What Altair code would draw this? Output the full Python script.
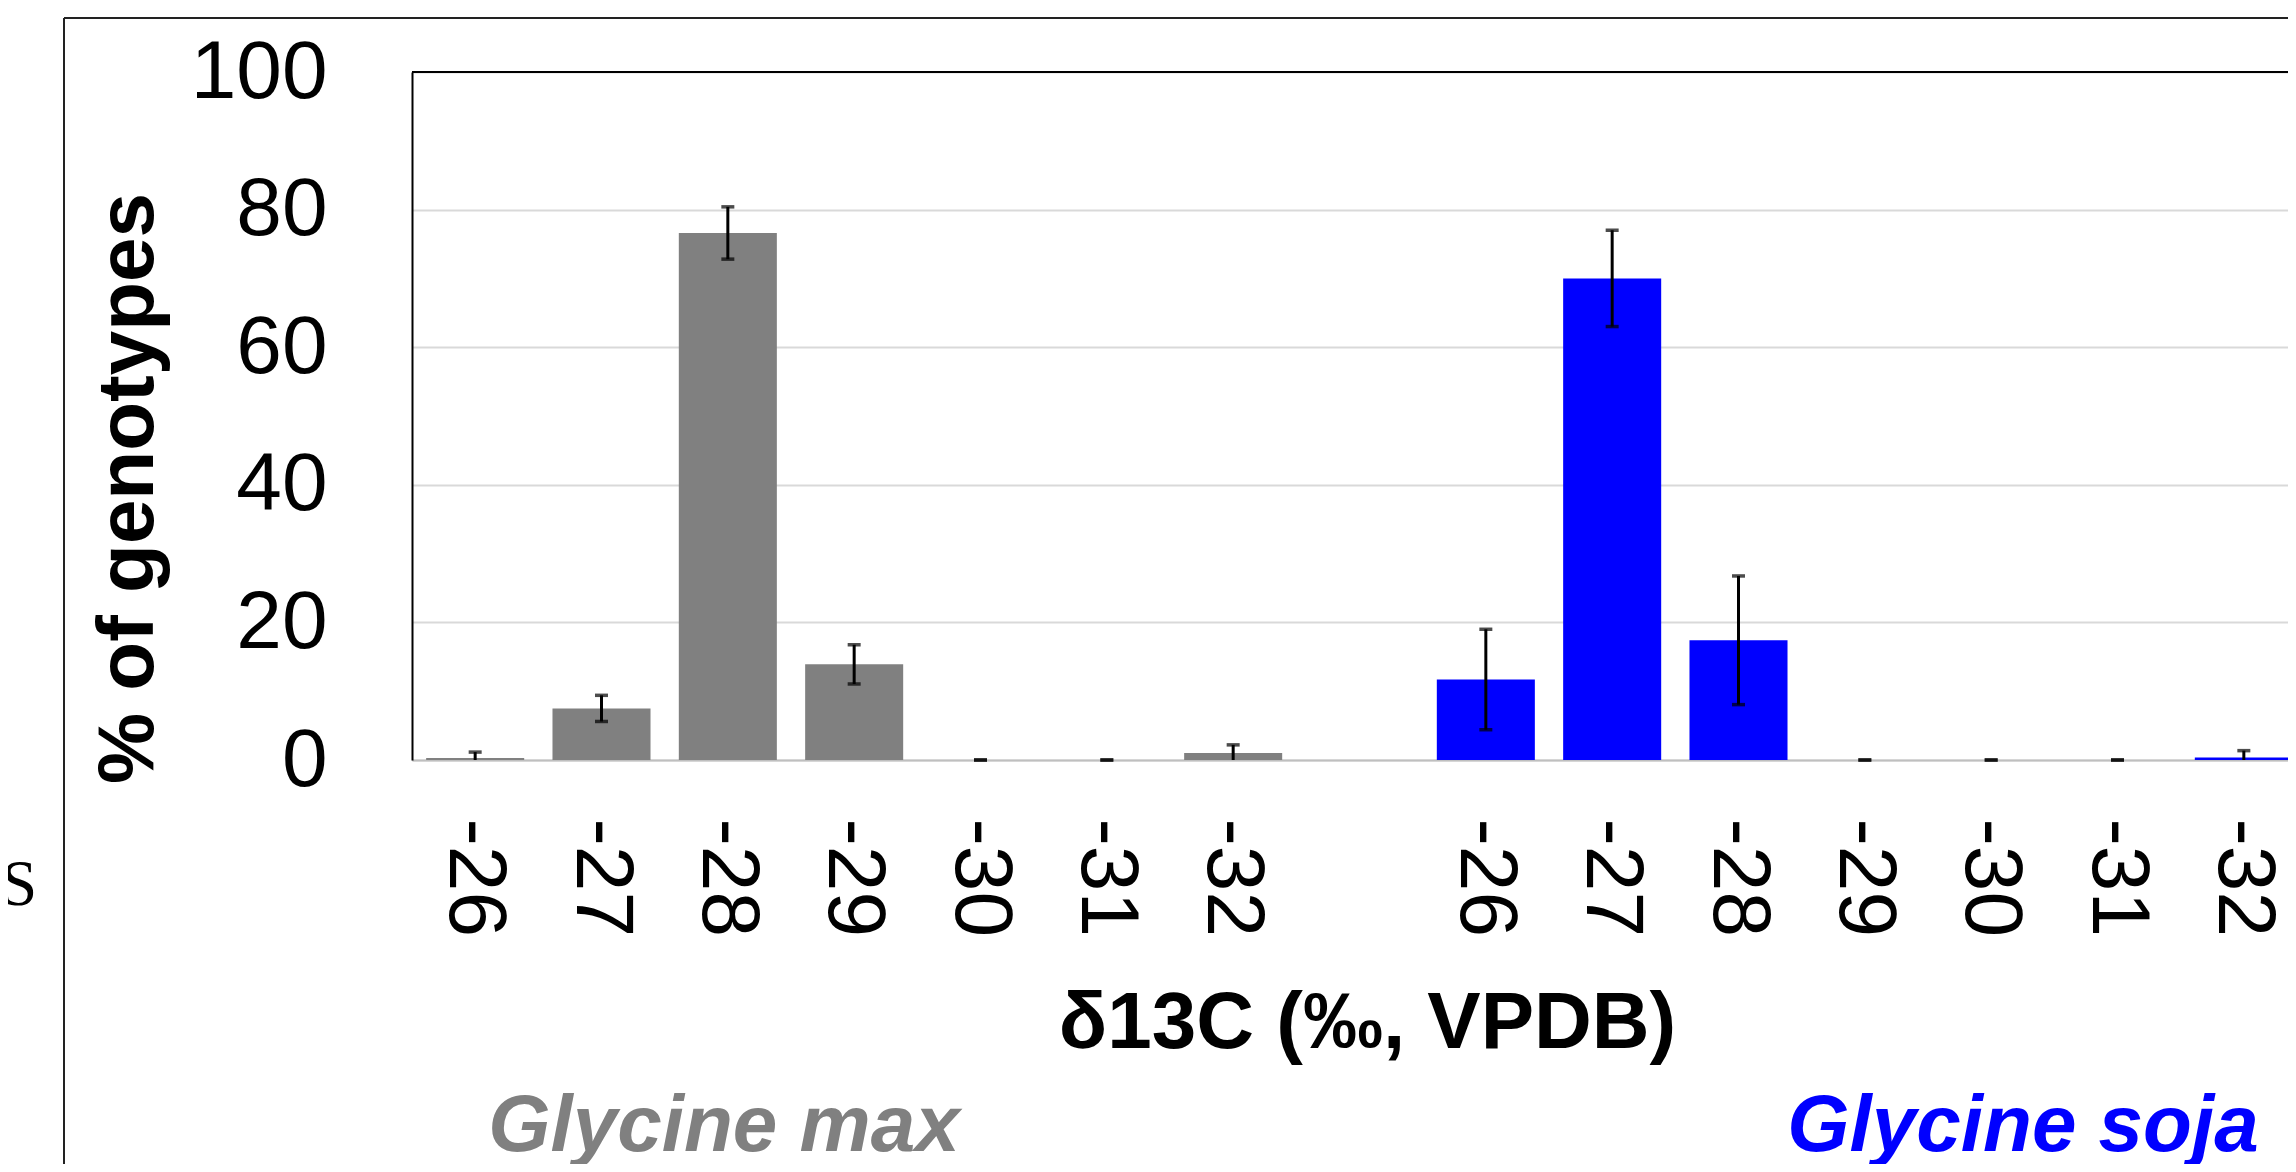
import altair as alt
import pandas as pd

# ---- data ----
bins = ["-26", "-27", "-28", "-29", "-30", "-31", "-32"]
max_values = [0.3, 7.5, 76.6, 13.9, 0.0, 0.0, 1.0]
max_errors = [0.85, 1.9, 3.8, 2.85, 0.0, 0.0, 1.2]
soja_values = [11.7, 70.0, 17.4, 0.0, 0.0, 0.0, 0.36]
soja_errors = [7.3, 7.0, 9.35, 0.0, 0.0, 0.0, 1.0]
groups = ["max", "soja"]
group_titles = ["Glycine max", "Glycine soja"]
group_colors = ["#808080", "#0000ff"]
y_ticks = [0, 20, 40, 60, 80, 100]

FONT = "Liberation Sans Narrow, Arial Narrow, Liberation Sans, Arial, sans-serif"

slots = [f"max|{b}" for b in bins] + ["gap|"] + [f"soja|{b}" for b in bins]

rows = []
for g, vals, errs in [("max", max_values, max_errors), ("soja", soja_values, soja_errors)]:
    for b, v, e in zip(bins, vals, errs):
        lo_raw = v - e
        rows.append({
            "slot": f"{g}|{b}", "group": g, "value": v,
            "lo": max(lo_raw, 0.0), "hi": v + e, "lo_visible": lo_raw >= 0,
        })
df = pd.DataFrame(rows)

PLOT_W = 1876          # drawn area inside the window
RANGE_W = 1895         # full plot width (clipped at the window edge)
PLOT_H = 688

x_scale = alt.Scale(domain=slots, range=[0, RANGE_W], paddingInner=0.224, paddingOuter=0.112)
y_scale = alt.Scale(domain=[0, 100], nice=False)

x_enc = alt.X(
    "slot:N", scale=x_scale, sort=slots,
    axis=alt.Axis(
        title="δ13C (‰, VPDB)", labelExpr="split(datum.label, '|')[1]",
        labelAngle=90, labelAlign="left", labelBaseline="middle",
        labelFont=FONT, labelFontSize=82, labelColor="#000000", labelPadding=58,
        ticks=False, tickSize=0, domainColor="#bfbfbf", domainWidth=2,
        titleFont=FONT, titleFontSize=80, titleFontWeight="bold", titleColor="#000000",
        titleX=955, titleY=287, titleAlign="center", titleBaseline="alphabetic",
        labelOverlap=False, grid=False,
    ),
)
y_enc = alt.Y(
    "value:Q", scale=y_scale,
    axis=alt.Axis(
        title="% of genotypes", values=y_ticks, labelFont=FONT, labelFontSize=82,
        labelColor="#000000", labelPadding=85, ticks=False, tickSize=0,
        domainColor="#000000", domainWidth=2, gridColor="#d9d9d9", gridWidth=2,
        titleFont=FONT, titleFontSize=80, titleFontWeight="bold", titleColor="#000000",
        titleAngle=270, titleX=-260, titleY=416, titleAlign="center",
        titleBaseline="alphabetic",
    ),
)

base = alt.Chart(df)

bars = base.mark_bar().encode(
    x=x_enc, y=y_enc,
    color=alt.Color("group:N", scale=alt.Scale(domain=groups, range=group_colors), legend=None),
)

err_line = base.mark_rule(color="#000000", strokeWidth=3).encode(
    x=alt.X("slot:N", scale=x_scale, sort=slots), y=alt.Y("lo:Q", scale=y_scale), y2="hi:Q"
)
cap_top = base.mark_tick(color="#000000", size=13, thickness=3.5).encode(
    x=alt.X("slot:N", scale=x_scale, sort=slots), y=alt.Y("hi:Q", scale=y_scale)
)
cap_bot = base.transform_filter("datum.lo_visible").mark_tick(
    color="#000000", size=13, thickness=3.5
).encode(x=alt.X("slot:N", scale=x_scale, sort=slots), y=alt.Y("lo:Q", scale=y_scale))

top_border = alt.Chart(pd.DataFrame({"y": [100]})).mark_rule(
    color="#000000", strokeWidth=2
).encode(y=alt.Y("y:Q", scale=y_scale), x=alt.value(0), x2=alt.value(RANGE_W))

frame_df = pd.DataFrame({"k": [0]})
frame_v = alt.Chart(frame_df).mark_rule(color="#222222", strokeWidth=2).encode(
    x=alt.value(-348), y=alt.value(-54), y2=alt.value(1100)
)
frame_h = alt.Chart(frame_df).mark_rule(color="#222222", strokeWidth=2).encode(
    x=alt.value(-348), x2=alt.value(RANGE_W), y=alt.value(-54)
)

side_s = alt.Chart(pd.DataFrame({"t": ["S"]})).mark_text(
    font="Liberation Serif, Times New Roman, serif", fontSize=65, color="#000000",
    align="center", baseline="alphabetic",
).encode(text="t:N", x=alt.value(-393), y=alt.value(833))

labels_df = pd.DataFrame({"t": group_titles, "group": groups})
label_max = alt.Chart(labels_df).transform_filter("datum.group == 'max'").mark_text(
    font=FONT, fontSize=80, fontWeight="bold", fontStyle="italic",
    color=group_colors[0], align="center", baseline="alphabetic",
).encode(text="t:N", x=alt.value(312), y=alt.value(1079))
label_soja = alt.Chart(labels_df).transform_filter("datum.group == 'soja'").mark_text(
    font=FONT, fontSize=80, fontWeight="bold", fontStyle="italic",
    color=group_colors[1], align="center", baseline="alphabetic",
).encode(text="t:N", x=alt.value(1611), y=alt.value(1079))

chart = alt.layer(
    bars, err_line, cap_top, cap_bot, top_border, frame_v, frame_h, side_s, label_max, label_soja
).properties(
    width=PLOT_W, height=PLOT_H,
    autosize=alt.AutoSizeParams(type="none"),
    padding={"left": 404, "top": 64, "right": 0, "bottom": 404},
).configure_view(stroke=None).configure(background="#ffffff")

chart.save("out.html", embed_options={"renderer": "svg", "actions": False})
